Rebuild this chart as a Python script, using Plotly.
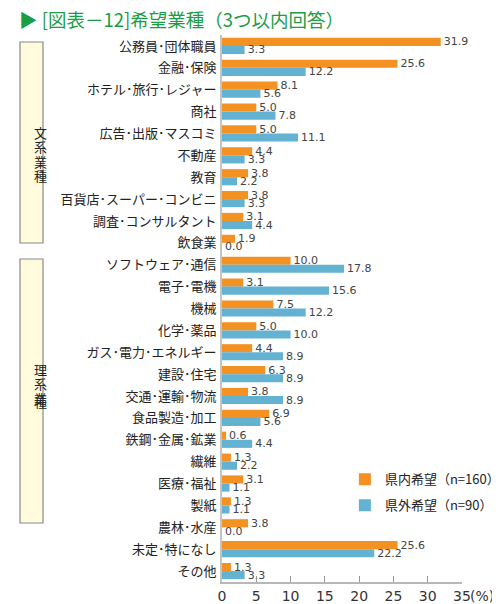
import plotly.graph_objects as go

# Data (%)
categories = [
    "公務員･団体職員", "金融･保険", "ホテル･旅行･レジャー", "商社", "広告･出版･マスコミ",
    "不動産", "教育", "百貨店･スーパー･コンビニ", "調査･コンサルタント", "飲食業",
    "ソフトウェア･通信", "電子･電機", "機械", "化学･薬品", "ガス･電力･エネルギー",
    "建設･住宅", "交通･運輸･物流", "食品製造･加工", "鉄鋼･金属･鉱業", "繊維",
    "医療･福祉", "製紙", "農林･水産", "未定･特になし", "その他",
]
in_pref = [31.9, 25.6, 8.1, 5.0, 5.0, 4.4, 3.8, 3.8, 3.1, 1.9,
           10.0, 3.1, 7.5, 5.0, 4.4, 6.3, 3.8, 6.9, 0.6, 1.3,
           3.1, 1.3, 3.8, 25.6, 1.3]
out_pref = [3.3, 12.2, 5.6, 7.8, 11.1, 3.3, 2.2, 3.3, 4.4, 0.0,
            17.8, 15.6, 12.2, 10.0, 8.9, 8.9, 8.9, 5.6, 4.4, 2.2,
            1.1, 1.1, 0.0, 22.2, 3.3]
series_names = ["県内希望（n=160）", "県外希望（n=90）"]
tick_vals = [0, 5, 10, 15, 20, 25, 30, 35]
group_labels = ["文系業種", "理系業種"]

ORANGE = "#f39123"
BLUE = "#63b2d2"
GREEN = "#1a9d44"
JP_FONT = "Noto Sans CJK JP"

# page body has an 8px margin, so the figure is a bit smaller than the window
PAGE_OFF = 8
W, H = 500 - PAGE_OFF, 604 - PAGE_OFF
M_L, M_R, M_T, M_B = 222 - PAGE_OFF, 38, 35 - PAGE_OFF, 22
PLOT_H = H - M_T - M_B


def py(px):
    # window pixel row -> paper y
    return 1 - (px - 35) / PLOT_H


fig = go.Figure()
for name, vals, col, grp in [(series_names[0], in_pref, ORANGE, "a"),
                             (series_names[1], out_pref, BLUE, "b")]:
    fig.add_trace(go.Bar(
        y=categories, x=vals, orientation="h", name=name, legendgroup=grp,
        marker=dict(color=col, line=dict(width=0)),
        text=[f"{v:.1f}" for v in vals], textposition="outside",
        constraintext="none", cliponaxis=False,
        textfont=dict(family="DejaVu Sans", size=11, color="#444"),
    ))

# group frames on the left: 文系 / 理系
for (top, bottom), label in zip([(42, 243), (259, 523)], group_labels):
    fig.add_shape(type="rect", xref="paper", yref="paper",
                  x0=-0.8417, x1=-0.7458, y0=py(top), y1=py(bottom),
                  fillcolor="#fffbdc", line=dict(color="#8a8a8a", width=1.2))
    mid = (top + bottom) / 2
    for i, ch in enumerate(label):
        fig.add_annotation(xref="paper", yref="paper", x=-0.7937,
                           y=py(mid + (i - 1.5) * 14.5), text=ch, showarrow=False,
                           font=dict(family=JP_FONT, size=13, color="#222"))

fig.add_annotation(xref="x", yref="paper", x=35, y=0, yanchor="top", xanchor="left",
                   text="(%)", showarrow=False, xshift=6, yshift=-4,
                   font=dict(family="DejaVu Sans", size=14, color="#333"))

fig.update_layout(
    template="none",
    width=W, height=H,
    margin=dict(l=M_L, r=M_R, t=M_T, b=M_B, autoexpand=False),
    barmode="group", bargap=0.26, bargroupgap=0,
    plot_bgcolor="white", paper_bgcolor="white",
    title=dict(text="▶ [図表－12]希望業種（3つ以内回答）",
               xref="container", yref="container",
               x=(19 - PAGE_OFF) / W, y=1 - 13 / H,
               xanchor="left", yanchor="middle",
               font=dict(family=JP_FONT, size=18.5, color=GREEN)),
    legend=dict(x=0.512, y=0.215, xanchor="left", yanchor="top",
                traceorder="grouped", tracegroupgap=6, itemwidth=30,
                bgcolor="rgba(0,0,0,0)",
                font=dict(family=JP_FONT, size=13, color="#222")),
    showlegend=True,
)
fig.update_xaxes(range=[0, 35], tickvals=tick_vals, showgrid=False, zeroline=False,
                 automargin=False,
                 showline=True, linecolor="#b8b8b8", linewidth=2,
                 ticks="inside", ticklen=6, tickcolor="#999", tickwidth=1,
                 tickfont=dict(family="DejaVu Sans", size=14, color="#333"))
fig.update_yaxes(autorange="reversed", showgrid=False, zeroline=False,
                 automargin=False,
                 showline=True, linecolor="#c4c4c4", linewidth=2, ticks="",
                 ticklabelstandoff=1,
                 tickfont=dict(family=JP_FONT, size=13, color="#222"))

fig.write_html("out.html")
